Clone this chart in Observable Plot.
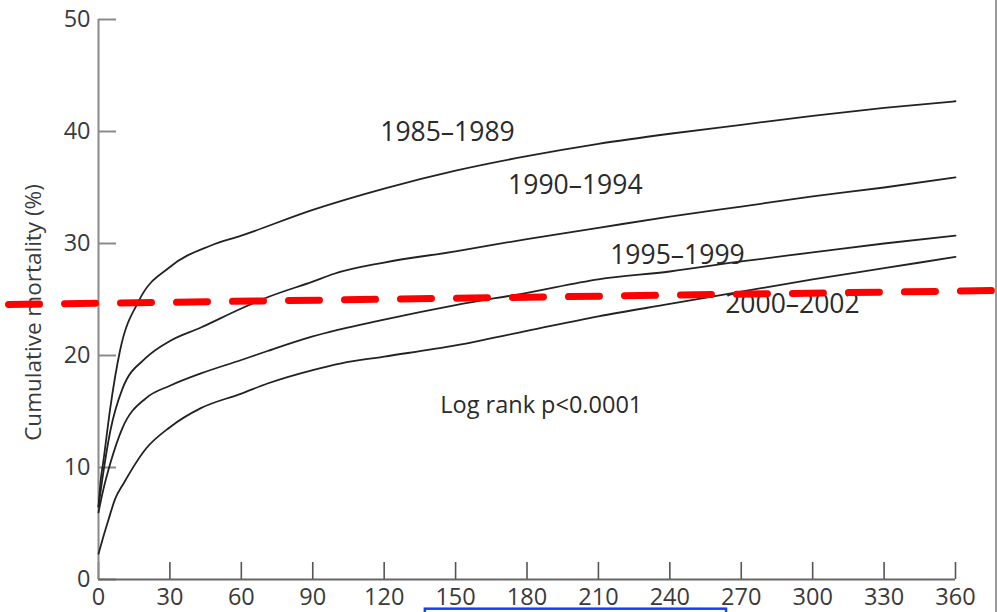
<!DOCTYPE html>
<html>
<head>
<meta charset="utf-8">
<script src="https://cdn.jsdelivr.net/npm/d3@7"></script>
<script src="https://cdn.jsdelivr.net/npm/@observablehq/plot@0.6"></script>
<style>
  html, body { margin: 0; padding: 0; background: #fff; }
  #wrap { position: relative; width: 997px; height: 612px; overflow: hidden; }
  #edge { position: absolute; left: 995px; top: 0; width: 2px; height: 612px; background: #9a9a9a; }
</style>
</head>
<body>
<div id="wrap"><div id="chart"></div><div id="edge"></div></div>
<script>
// Days since event (x) and cumulative mortality in % (y)
const days1985 = [0, 1, 2, 5, 9, 17, 30, 47, 60, 90, 120, 150, 180, 210, 240, 270, 300, 330, 360];
const mort1985 = [6.5, 9, 10.5, 15.4, 20.4, 24.9, 27.9, 29.8, 30.7, 33.0, 34.9, 36.5, 37.8, 38.9, 39.8, 40.6, 41.4, 42.1, 42.7];

const days1990 = [0, 1.5, 5, 10, 20, 30, 43, 60, 71, 90, 99, 120, 150, 180, 210, 240, 270, 300, 330, 360];
const mort1990 = [6.5, 8.8, 13.3, 17, 19.8, 21.3, 22.5, 24.2, 25.2, 26.6, 27.3, 28.3, 29.3, 30.4, 31.4, 32.4, 33.3, 34.2, 35, 35.9];

const days1995 = [0, 2, 5, 10, 20, 30, 43, 60, 71, 90, 120, 150, 180, 210, 240, 270, 300, 330, 360];
const mort1995 = [6, 8, 10.4, 13.5, 16.2, 17.3, 18.4, 19.6, 20.4, 21.7, 23.2, 24.5, 25.6, 26.8, 27.5, 28.4, 29.2, 30, 30.7];

const days2000 = [0, 2, 4, 7, 10.6, 20, 30, 43, 60, 71, 90, 102, 120, 150, 180, 210, 240, 270, 300, 330, 360];
const mort2000 = [2.3, 3.8, 5.2, 7.2, 8.6, 11.7, 13.6, 15.3, 16.6, 17.5, 18.7, 19.3, 19.9, 20.9, 22.2, 23.5, 24.6, 25.7, 26.8, 27.8, 28.8];

const periodNames = ["1985–1989", "1990–1994", "1995–1999", "2000–2002"];
const labelX = [146.6, 200.3, 243.2, 291.5];
const labelY = [39.9, 35.2, 28.9, 24.55];

const xTicks = [0, 30, 60, 90, 120, 150, 180, 210, 240, 270, 300, 330, 360];
const yTicks = [0, 10, 20, 30, 40, 50];

// red dashed reference line (overlay), endpoints in data units
const refX = [-37.8, 376.7];
const refY = [24.55, 25.8];

// blue highlight box (overlay) in data units
const boxX = [137.3, 263.8];
const boxY = [-2.65, -8];

const statText = "Log rank p<0.0001";
const statX = 186;
const statY = 15.5;

const series = [
  [days1985, mort1985], [days1990, mort1990], [days1995, mort1995], [days2000, mort2000]
].flatMap(([xs, ys], i) => xs.map((x, j) => ({period: periodNames[i], x, y: ys[j]})));

const refLine = refX.map((x, i) => ({x, y: refY[i]}));
const labels = periodNames.map((name, i) => ({name, x: labelX[i], y: labelY[i]}));

const font = "'Open Sans', sans-serif";

const chart = Plot.plot({
  width: 997,
  height: 612,
  marginLeft: 98,
  marginRight: 42,
  marginTop: 19,
  marginBottom: 33,
  style: {fontFamily: font, background: "white", overflow: "visible"},
  x: {domain: [0, 360], ticks: xTicks},
  y: {domain: [0, 50], ticks: yTicks},
  marks: [
    // y axis: labels
    Plot.axisY(yTicks, {tickSize: 0, tickPadding: 8, fontSize: 23.5, fill: "#3a3a3a", label: null, fontFamily: font}),
    // y axis inward ticks
    Plot.axisY(yTicks, {tickSize: 18, dx: 18, text: null, stroke: "#8a8a8a", strokeWidth: 2, label: null}),
    // x axis labels
    Plot.axisX(xTicks, {tickSize: 0, tickPadding: 9, fontSize: 23.5, fill: "#3a3a3a", label: null, fontFamily: font}),
    // x axis inward ticks
    Plot.axisX(xTicks, {tickSize: 17, dy: -17, text: null, stroke: "#555", strokeWidth: 1.6, label: null}),
    Plot.ruleX([0], {stroke: "#8a8a8a", strokeWidth: 2}),
    Plot.ruleY([0], {stroke: "#666", strokeWidth: 2}),
    // y axis title
    Plot.text(["Cumulative mortality (%)"], {frameAnchor: "left", textAnchor: "middle", rotate: -90, dx: -65, dy: 13, fontSize: 22.5, fill: "#3a3a3a", fontFamily: font}),
    // curves
    Plot.line(series, {x: "x", y: "y", z: "period", stroke: "#222", strokeWidth: 1.8, curve: "monotone-x"}),
    Plot.text(labels, {x: "x", y: "y", text: "name", fontSize: 26.5, fill: "#2a2a2a", fontFamily: font}),
    Plot.text([statText], {x: statX, y: statY, text: d => d, fontSize: 23.5, fill: "#2a2a2a", fontFamily: font}),
    // overlays
    Plot.line(refLine, {x: "x", y: "y", stroke: "#ff0000", strokeWidth: 7, strokeDasharray: "31,25", clip: false}),
    Plot.rect([0], {x1: boxX[0], x2: boxX[1], y1: boxY[0], y2: boxY[1], fill: "none", stroke: "#1a3cff", strokeWidth: 2.5, clip: false})
  ]
});
document.getElementById("chart").appendChild(chart);
</script>
</body>
</html>
